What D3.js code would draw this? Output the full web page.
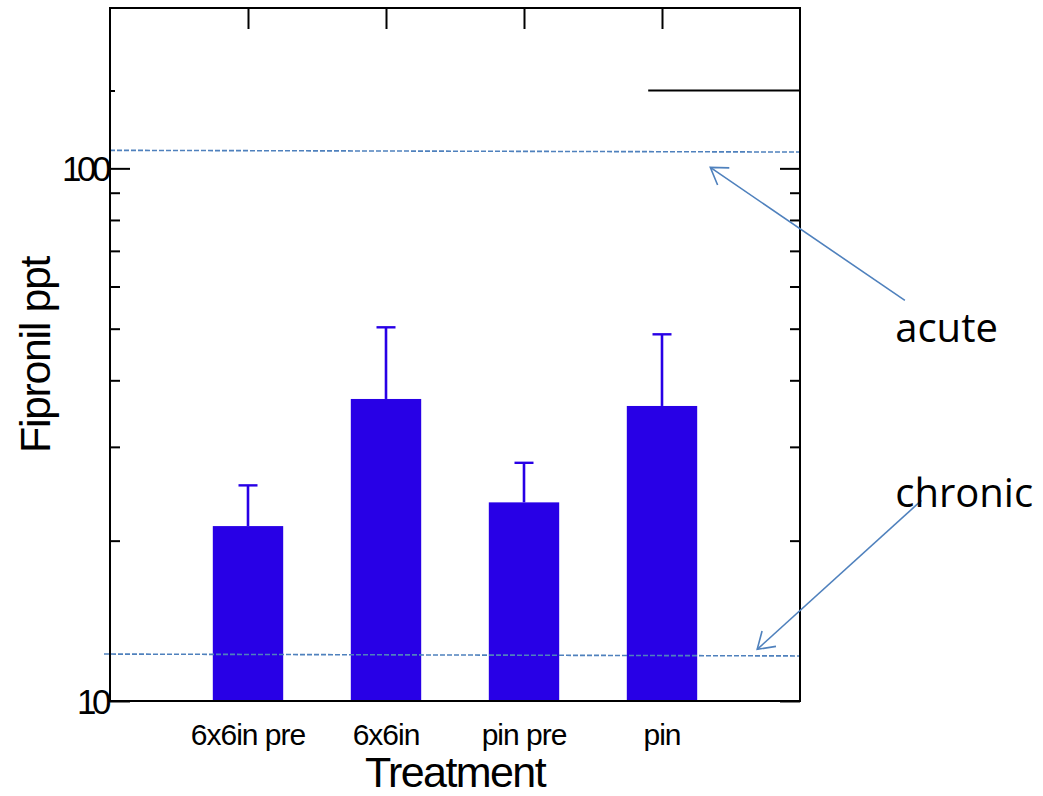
<!DOCTYPE html>
<html>
<head>
<meta charset="utf-8">
<script src="https://cdn.jsdelivr.net/npm/d3@7"></script>
<style>
  html, body { margin: 0; padding: 0; background: #fff; }
  svg { display: block; }
</style>
</head>
<body>
<svg id="chart" width="1043" height="796"></svg>
<script>
// ---------------- data ----------------
const categories = ["6x6in pre", "6x6in", "pin pre", "pin"];
const means = [21.3, 36.9, 23.6, 35.8];
const errors = [4.1, 13.4, 4.4, 13.0];          // upper error (mean + err = cap)
const yMajorTicks = [10, 100];
const yMinorTicks = [20, 30, 40, 50, 60, 70, 80, 90];
const yExtraTick = [140];
const acuteLine = [108.1, 107.3];                 // value at left / right end
const chronicLine = [12.25, 12.15];
const annotations = [
  { label: "acute",   text: [5.69, 47.3], from: [5.76, 56.5], to: [4.35, 100.4] },
  { label: "chronic", text: [5.69, 23.1], from: [5.88, 23.8], to: [4.69, 12.5] }
];

// ---------------- layout ----------------
const L = 110, R = 800, T = 8, B = 701;
const svg = d3.select("#chart");

const x = d3.scalePoint().domain(categories).range([L, R]).padding(1);
const xLin = d3.scaleLinear().domain([0, categories.length + 1]).range([L, R]);
const y = d3.scaleLog().domain([10, 200]).range([B, T]);
const barW = x.step() * 0.51;

const barColor = "#2800e6";
const refColor = "#4f81bd";

// bottom ticks (under bars)
svg.append("g").attr("transform", `translate(0,${B})`)
  .call(d3.axisTop(x).tickSize(20).tickFormat(""))
  .call(g => g.select(".domain").remove())
  .call(g => g.selectAll("line").attr("stroke", "#000").attr("stroke-width", 2));

// bars
svg.append("g").selectAll("rect").data(categories).join("rect")
  .attr("x", d => x(d) - barW / 2)
  .attr("width", barW)
  .attr("y", (d, i) => y(means[i]))
  .attr("height", (d, i) => B - y(means[i]))
  .attr("fill", barColor);

// error bars
const eb = svg.append("g").attr("stroke", barColor);
eb.selectAll("line.v").data(categories).join("line").attr("class", "v")
  .attr("x1", d => x(d)).attr("x2", d => x(d))
  .attr("y1", (d, i) => y(means[i]))
  .attr("y2", (d, i) => y(means[i] + errors[i]))
  .attr("stroke-width", 2.6);
eb.selectAll("line.c").data(categories).join("line").attr("class", "c")
  .attr("x1", d => x(d) - 9.5).attr("x2", d => x(d) + 9.5)
  .attr("y1", (d, i) => y(means[i] + errors[i]))
  .attr("y2", (d, i) => y(means[i] + errors[i]))
  .attr("stroke-width", 2.4);

// reference dashed lines
svg.append("line")
  .attr("x1", L).attr("x2", R)
  .attr("y1", y(acuteLine[0])).attr("y2", y(acuteLine[1]))
  .attr("stroke", refColor).attr("stroke-width", 1.6).attr("stroke-dasharray", "5,2");
svg.append("line")
  .attr("x1", L - 6).attr("x2", R)
  .attr("y1", y(chronicLine[0])).attr("y2", y(chronicLine[1]))
  .attr("stroke", refColor).attr("stroke-width", 1.6).attr("stroke-dasharray", "5,2");

// left axis (ticks pointing inward, labels outside)
function styleAxis(g) {
  g.select(".domain").remove();
  g.selectAll("line").attr("stroke", "#000").attr("stroke-width", 2);
}
svg.append("g").attr("transform", `translate(${L},0)`)
  .call(d3.axisLeft(y).tickValues(yMajorTicks).tickSizeInner(-20).tickSizeOuter(0).tickPadding(3).tickFormat(d3.format("d")))
  .call(styleAxis)
  .call(g => g.selectAll("text")
    .attr("font-family", "Liberation Sans, Arial, sans-serif")
    .attr("font-size", 35).attr("letter-spacing", -4.5).attr("fill", "#000")
    .attr("dy", "0.36em"));
svg.append("g").attr("transform", `translate(${L},0)`)
  .call(d3.axisLeft(y).tickValues(yMinorTicks).tickSizeInner(-10).tickSizeOuter(0).tickFormat(""))
  .call(styleAxis);
svg.append("g").attr("transform", `translate(${L},0)`)
  .call(d3.axisLeft(y).tickValues(yExtraTick).tickSizeInner(-5).tickSizeOuter(0).tickFormat(""))
  .call(styleAxis);

// right axis (ticks pointing inward)
svg.append("g").attr("transform", `translate(${R},0)`)
  .call(d3.axisRight(y).tickValues(yMajorTicks).tickSizeInner(-20).tickSizeOuter(0).tickFormat(""))
  .call(styleAxis);
svg.append("g").attr("transform", `translate(${R},0)`)
  .call(d3.axisRight(y).tickValues(yMinorTicks).tickSizeInner(-10).tickSizeOuter(0).tickFormat(""))
  .call(styleAxis);
// long tick line at upper right
svg.append("line")
  .attr("x1", xLin(3.9)).attr("x2", R)
  .attr("y1", y(yExtraTick[0])).attr("y2", y(yExtraTick[0]))
  .attr("stroke", "#000").attr("stroke-width", 2);

// top axis ticks
svg.append("g").attr("transform", `translate(0,${T})`)
  .call(d3.axisBottom(x).tickSize(21).tickFormat(""))
  .call(styleAxis);

// frame
svg.append("rect").attr("x", L).attr("y", T).attr("width", R - L).attr("height", B - T)
  .attr("fill", "none").attr("stroke", "#000").attr("stroke-width", 2);

// category labels
svg.append("g").selectAll("text").data(categories).join("text")
  .attr("x", d => x(d)).attr("y", 745)
  .attr("text-anchor", "middle")
  .attr("font-family", "Liberation Sans, Arial, sans-serif")
  .attr("font-size", 30).attr("letter-spacing", -1)
  .text(d => d);

// axis titles
svg.append("text")
  .attr("x", (L + R) / 2 + 0).attr("y", 787)
  .attr("text-anchor", "middle")
  .attr("font-family", "Liberation Sans, Arial, sans-serif")
  .attr("font-size", 43).attr("letter-spacing", -1.6)
  .text("Treatment");
svg.append("text")
  .attr("transform", "translate(50,355) rotate(-90)")
  .attr("text-anchor", "middle")
  .attr("font-family", "Liberation Sans, Arial, sans-serif")
  .attr("font-size", 43).attr("letter-spacing", -1.4)
  .text("Fipronil ppt");

// annotations with open arrows
const ann = svg.append("g");
annotations.forEach(a => {
  const x0 = xLin(a.from[0]), y0 = y(a.from[1]);
  const x1 = xLin(a.to[0]), y1 = y(a.to[1]);
  ann.append("line").attr("x1", x0).attr("y1", y0).attr("x2", x1).attr("y2", y1)
    .attr("stroke", refColor).attr("stroke-width", 1.6);
  const ang = Math.atan2(y0 - y1, x0 - x1);
  const len = 19, half = 33 * Math.PI / 180;
  const p1 = [x1 + len * Math.cos(ang - half), y1 + len * Math.sin(ang - half)];
  const p2 = [x1 + len * Math.cos(ang + half), y1 + len * Math.sin(ang + half)];
  ann.append("path")
    .attr("d", `M${p1[0]},${p1[1]}L${x1},${y1}L${p2[0]},${p2[1]}`)
    .attr("fill", "none").attr("stroke", refColor).attr("stroke-width", 1.6);
  ann.append("text")
    .attr("x", xLin(a.text[0])).attr("y", y(a.text[1]))
    .attr("font-family", "Open Sans, Noto Sans, sans-serif")
    .attr("font-size", 40)
    .attr("fill", "#000")
    .text(a.label);
});
</script>
</body>
</html>
